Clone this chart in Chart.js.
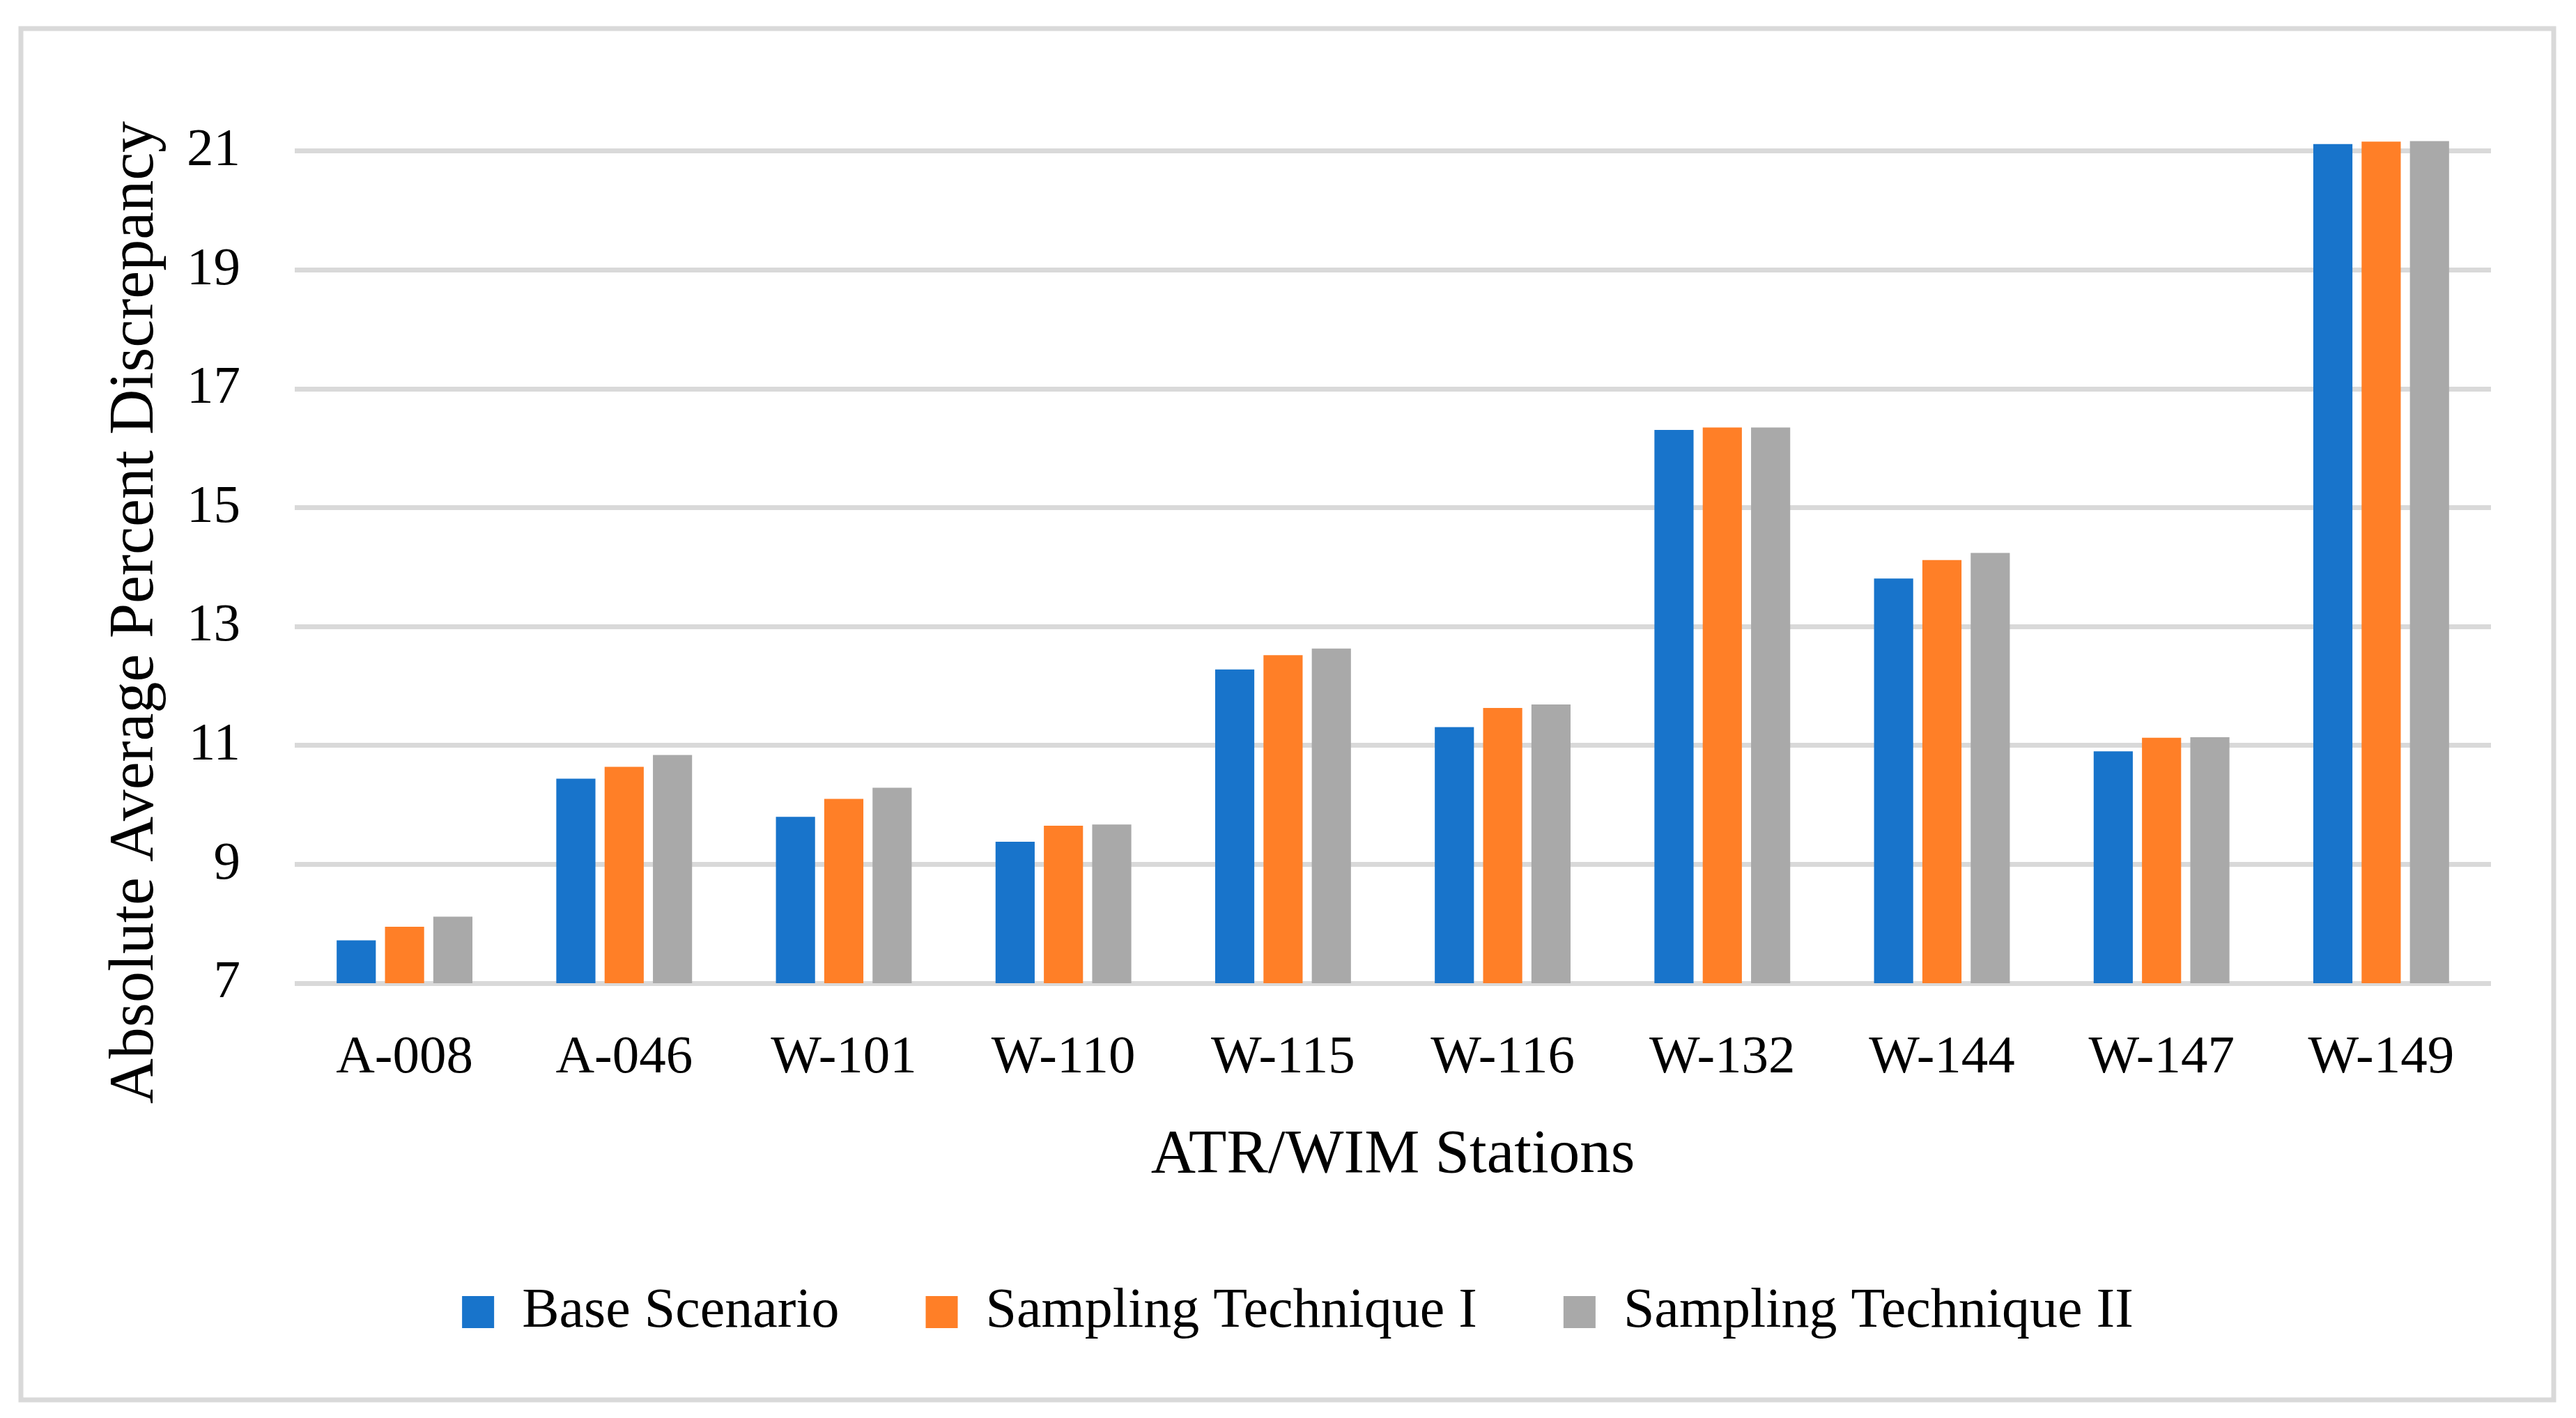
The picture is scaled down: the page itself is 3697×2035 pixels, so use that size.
<!DOCTYPE html>
<html><head><meta charset="utf-8">
<script src="https://cdn.jsdelivr.net/npm/chart.js@4"></script>
<style>html,body{margin:0;padding:0;background:#fff;overflow:hidden}canvas{display:block}</style>
</head><body>
<canvas id="c" width="3697" height="2035"></canvas>
<script>
const categories = ['A-008','A-046','W-101','W-110','W-115','W-116','W-132','W-144','W-147','W-149'];
const baseScenario = [7.72, 10.44, 9.80, 9.38, 12.28, 11.31, 16.31, 13.81, 10.90, 21.12];
const samplingI    = [7.95, 10.64, 10.10, 9.65, 12.52, 11.63, 16.35, 14.12, 11.13, 21.16];
const samplingII   = [8.12, 10.84, 10.29, 9.67, 12.63, 11.69, 16.35, 14.24, 11.14, 21.17];
const seriesNames  = ['Base Scenario', 'Sampling Technique I', 'Sampling Technique II'];
const seriesColors = ['#1874CB', '#FF7F27', '#A9A9A9'];
const yTickValues  = [7, 9, 11, 13, 15, 17, 19, 21];
const xTitle = 'ATR/WIM Stations';
const yTitle = 'Absolute Average Percent Discrepancy';

const FONT = "'Liberation Serif', 'Times New Roman', serif";

const frame = {
  id: 'frame',
  beforeDraw(chart) {
    const ctx = chart.ctx;
    ctx.save();
    ctx.fillStyle = '#fff';
    ctx.fillRect(0, 0, chart.width, chart.height);
    ctx.strokeStyle = '#D9D9D9';
    ctx.lineWidth = 7;
    ctx.strokeRect(30, 41, 3635, 1968);
    ctx.restore();
  },
  afterDraw(chart) {
    const ctx = chart.ctx;
    ctx.save();
    ctx.translate(195, 879);
    ctx.rotate(-Math.PI / 2);
    ctx.font = "90px " + FONT;
    ctx.fillStyle = '#000';
    ctx.textAlign = 'center';
    ctx.textBaseline = 'middle';
    ctx.fillText(yTitle, 0, 0);
    ctx.restore();
  }
};

const seriesData = [baseScenario, samplingI, samplingII];

new Chart(document.getElementById('c'), {
  type: 'bar',
  data: {
    labels: categories,
    datasets: seriesNames.map((name, i) => ({
      label: name,
      data: seriesData[i],
      backgroundColor: seriesColors[i],
      borderWidth: 0,
      categoryPercentage: 0.66,
      barPercentage: 0.81
    }))
  },
  options: {
    responsive: false,
    devicePixelRatio: 1,
    animation: false,
    layout: { padding: { top: 89, bottom: 102, left: 150, right: 122 } },
    plugins: {
      tooltip: { enabled: false },
      legend: {
        position: 'bottom',
        labels: {
          boxWidth: 46, boxHeight: 46, padding: 124,
          color: '#000',
          font: { family: FONT, size: 80 }
        }
      }
    },
    scales: {
      x: {
        grid: { display: false, drawTicks: false },
        border: { display: false },
        ticks: { color: '#000', padding: 62, font: { family: FONT, size: 77 } },
        title: { display: true, text: xTitle, color: '#000', padding: { top: 0, bottom: 7 }, font: { family: FONT, size: 89 } },
        afterFit: (s) => { s.height = 308; }
      },
      y: {
        min: 7, max: 22.5,
        grid: { color: '#D9D9D9', lineWidth: 7, drawTicks: false },
        border: { display: false },
        ticks: { color: '#000', padding: 78, font: { family: FONT, size: 77 } },
        afterBuildTicks: (s) => { s.ticks = yTickValues.map(v => ({ value: v })); },
        afterFit: (s) => { s.width = 273; s.paddingTop = 0; s.paddingBottom = 0; }
      }
    }
  },
  plugins: [frame]
});
</script>
</body></html>
